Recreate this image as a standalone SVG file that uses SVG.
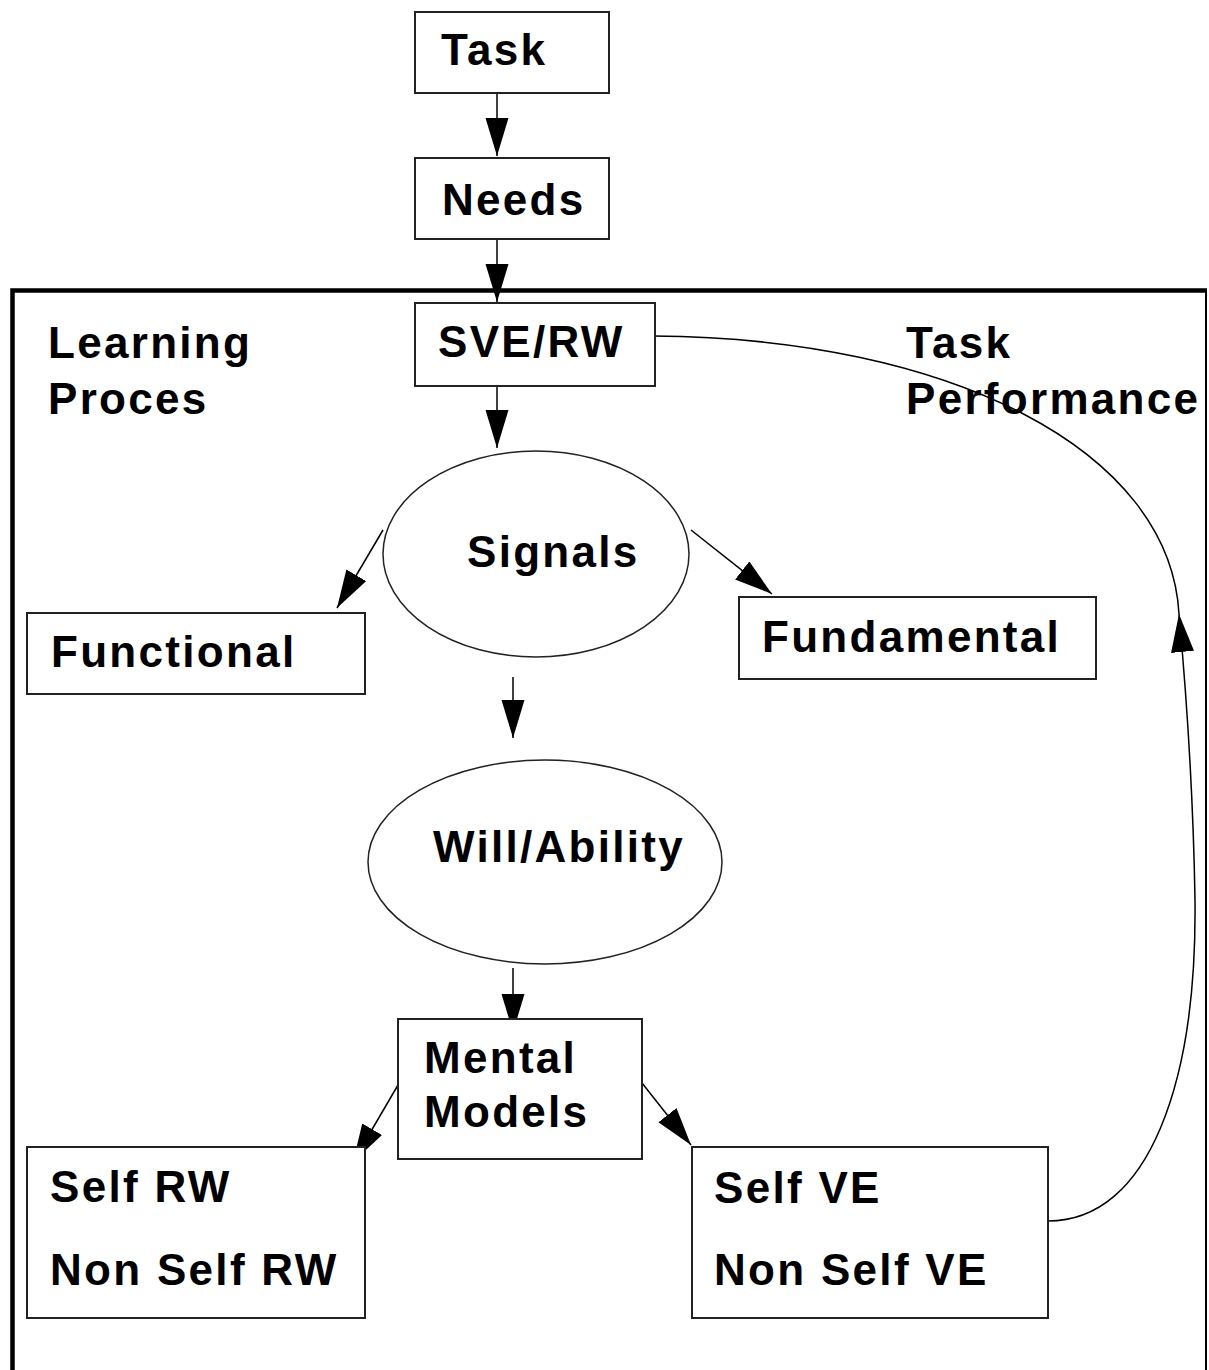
<svg xmlns="http://www.w3.org/2000/svg" width="1209" height="1370" viewBox="0 0 1209 1370">
<style>
.box{fill:#fff;stroke:#222;stroke-width:2}
.ell{fill:#fff;stroke:#222;stroke-width:1.5}
.lbl{font-family:"Liberation Sans",Arial,sans-serif;font-weight:bold;font-size:44px;letter-spacing:2.3px;fill:#000}
.con{fill:none;stroke:#000;stroke-width:1.5}
</style>
<defs>
<marker id="ah" markerUnits="userSpaceOnUse" markerWidth="40" markerHeight="24" refX="38" refY="11.5" orient="auto">
<path d="M0,0 L38,11.5 L0,23 Z" fill="#000"/>
</marker>
</defs>
<rect width="1209" height="1370" fill="#fff"/>
<g id="frame">
<line x1="1206" y1="290" x2="1206" y2="1375" stroke="#000" stroke-width="2"/>
<path d="M12.5,1375 L12.5,290.5 L1207,290.5" fill="none" stroke="#000" stroke-width="4.5"/>
<text class="lbl" x="48" y="358">Learning</text>
<text class="lbl" x="48" y="414">Proces</text>
<text class="lbl" x="906" y="358">Task</text>
<text class="lbl" x="906" y="414">Performance</text>
</g>
<g id="connectors">
<line class="con" x1="497" y1="93" x2="497" y2="156" marker-end="url(#ah)"/>
<line class="con" x1="497" y1="239" x2="497" y2="302" marker-end="url(#ah)"/>
<line class="con" x1="497" y1="387" x2="497" y2="448" marker-end="url(#ah)"/>
<line class="con" x1="383" y1="530" x2="337" y2="608" marker-end="url(#ah)"/>
<line class="con" x1="691" y1="530" x2="772" y2="594" marker-end="url(#ah)"/>
<line class="con" x1="513" y1="677" x2="513" y2="738" marker-end="url(#ah)"/>
<line class="con" x1="513" y1="968" x2="513" y2="1032" marker-end="url(#ah)"/>
<line class="con" x1="398" y1="1085" x2="353" y2="1162" marker-end="url(#ah)"/>
<line class="con" x1="642" y1="1083" x2="691" y2="1145" marker-end="url(#ah)"/>
<path class="con" d="M1048,1221 C1150,1221 1197,1080 1195,900 C1193,780 1186,690 1179,614" marker-end="url(#ah)"/>
<path class="con" d="M1179,614 C1170,450 950,338 653,336"/>
</g>
<g id="task">
<rect class="box" x="415" y="12" width="194" height="81"/>
<text class="lbl" x="441" y="65">Task</text>
</g>
<g id="needs">
<rect class="box" x="415" y="158" width="194" height="81"/>
<text class="lbl" x="442" y="215">Needs</text>
</g>
<g id="sverw">
<rect class="box" x="415" y="303" width="240" height="83"/>
<text class="lbl" x="438" y="357">SVE/RW</text>
</g>
<g id="signals">
<ellipse class="ell" cx="536" cy="554" rx="153" ry="103"/>
<text class="lbl" x="467" y="567">Signals</text>
</g>
<g id="functional">
<rect class="box" x="27" y="613" width="338" height="81"/>
<text class="lbl" x="51" y="667">Functional</text>
</g>
<g id="fundamental">
<rect class="box" x="739" y="597" width="357" height="82"/>
<text class="lbl" x="762" y="652">Fundamental</text>
</g>
<g id="willability">
<ellipse class="ell" cx="545" cy="862" rx="177" ry="102"/>
<text class="lbl" x="433" y="862">Will/Ability</text>
</g>
<g id="mentalmodels">
<rect class="box" x="398" y="1019" width="244" height="140"/>
<text class="lbl" x="424" y="1073">Mental</text>
<text class="lbl" x="424" y="1127">Models</text>
</g>
<g id="selfrw">
<rect class="box" x="27" y="1147" width="338" height="171"/>
<text class="lbl" x="50" y="1202">Self RW</text>
<text class="lbl" x="50" y="1285">Non Self RW</text>
</g>
<g id="selfve">
<rect class="box" x="692" y="1147" width="356" height="171"/>
<text class="lbl" x="714" y="1203">Self VE</text>
<text class="lbl" x="714" y="1285">Non Self VE</text>
</g>
</svg>
